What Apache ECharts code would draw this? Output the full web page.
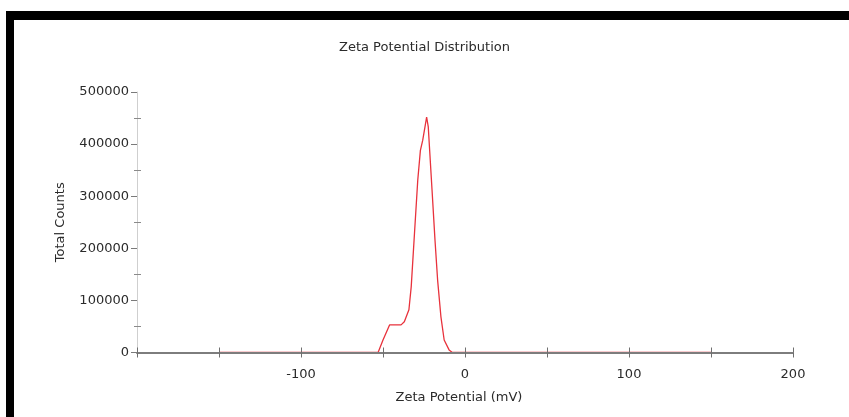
<!DOCTYPE html>
<html>
<head>
<meta charset="utf-8">
<script src="https://cdn.jsdelivr.net/npm/echarts@6/dist/echarts.min.js"></script>
<style>
  html, body { margin: 0; padding: 0; background: #ffffff; }
  #chart { width: 849px; height: 417px; }
</style>
</head>
<body>
<div id="chart"></div>
<script>
// Zeta potential (mV) and total counts of the distribution curve
const zetaMv = [-150, -53, -50, -46, -39, -37, -34.2, -32.8, -30.8, -28.8, -27.2, -25.8, -24.4, -23.4, -22.4, -21.8, -20.1, -18.3, -16.7, -14.7, -12.7, -9.7, -7.7, 150];
const totalCounts = [0, 0, 24000, 53000, 53000, 59000, 82000, 126000, 229000, 331000, 388000, 407000, 433000, 452000, 433000, 401000, 312000, 216000, 139000, 69000, 24000, 5000, 0, 0];

// Axis ranges and labelled ticks
const xRange = [-200, 200];
const xLabelled = [-100, 0, 100, 200];
const yRange = [0, 500000];

const FONT = 'DejaVu Sans';
const TEXT = '#2b2b2b';

const points = zetaMv.map((x, i) => [x, totalCounts[i]]);

const grid = { left: 137, right: 56, top: 92, bottom: 64.5 };

const chart = echarts.init(document.getElementById('chart'), null, { renderer: 'canvas' });

chart.setOption({
  animation: false,
  backgroundColor: '#ffffff',
  title: {
    text: 'Zeta Potential Distribution',
    left: 'center',
    top: 36,
    textStyle: { fontFamily: FONT, fontSize: 13, fontWeight: 'normal', color: TEXT }
  },
  grid: grid,
  xAxis: [
    {
      type: 'value',
      min: xRange[0], max: xRange[1], interval: 50,
      name: 'Zeta Potential (mV)',
      nameLocation: 'middle',
      nameGap: 39,
      nameTextStyle: { fontFamily: FONT, fontSize: 13, color: TEXT, padding: [0, 12, 0, 0] },
      splitLine: { show: false },
      z: 5,
      axisLine: { onZero: false, lineStyle: { color: '#7d7d7d', width: 2 } },
      axisTick: { length: 5, lineStyle: { color: '#6f6f6f' } },
      axisLabel: {
        margin: 16,
        fontFamily: FONT, fontSize: 13, color: TEXT,
        formatter: v => (xLabelled.includes(v) ? String(v) : '')
      }
    },
    {
      type: 'value',
      min: xRange[0], max: xRange[1], interval: 50,
      position: 'bottom',
      z: 5,
      axisLine: { show: false, onZero: false },
      axisTick: { inside: true, length: 5, lineStyle: { color: '#6f6f6f' } },
      axisLabel: { show: false },
      splitLine: { show: false }
    }
  ],
  yAxis: [
    {
      type: 'value',
      min: yRange[0], max: yRange[1], interval: 100000,
      name: 'Total Counts',
      nameLocation: 'middle',
      nameGap: 70,
      nameTextStyle: { fontFamily: FONT, fontSize: 13, color: TEXT },
      splitLine: { show: false },
      axisLine: { show: true, onZero: false, lineStyle: { color: '#cfcfcf', width: 1 } },
      axisTick: { show: true, length: 6, lineStyle: { color: '#7a7a7a' } },
      axisLabel: { margin: 8, fontFamily: FONT, fontSize: 13, color: TEXT, formatter: v => String(v) }
    },
    {
      type: 'value',
      min: yRange[0], max: yRange[1], interval: 100000,
      position: 'left',
      axisLine: { show: false, onZero: false },
      axisTick: { show: false, inside: true },
      minorTick: { show: true, splitNumber: 2, length: 4, lineStyle: { color: '#8a8a8a' } },
      axisLabel: { show: false },
      splitLine: { show: false }
    },
    {
      type: 'value',
      min: yRange[0], max: yRange[1], interval: 100000,
      position: 'left',
      axisLine: { show: false, onZero: false },
      axisTick: { show: false },
      minorTick: { show: true, splitNumber: 2, length: 3, lineStyle: { color: '#8a8a8a' } },
      axisLabel: { show: false },
      splitLine: { show: false }
    }
  ],
  series: [
    {
      type: 'line',
      data: points,
      xAxisIndex: 0,
      yAxisIndex: 0,
      showSymbol: false,
      symbol: 'none',
      lineStyle: { color: '#e8323c', width: 1.3 },
      z: 2
    }
  ],
  graphic: [
    { type: 'rect', shape: { x: 6, y: 11, width: 843, height: 9 }, style: { fill: '#000000' }, z: 100 },
    { type: 'rect', shape: { x: 6, y: 11, width: 8, height: 406 }, style: { fill: '#000000' }, z: 100 }
  ]
});
</script>
</body>
</html>
